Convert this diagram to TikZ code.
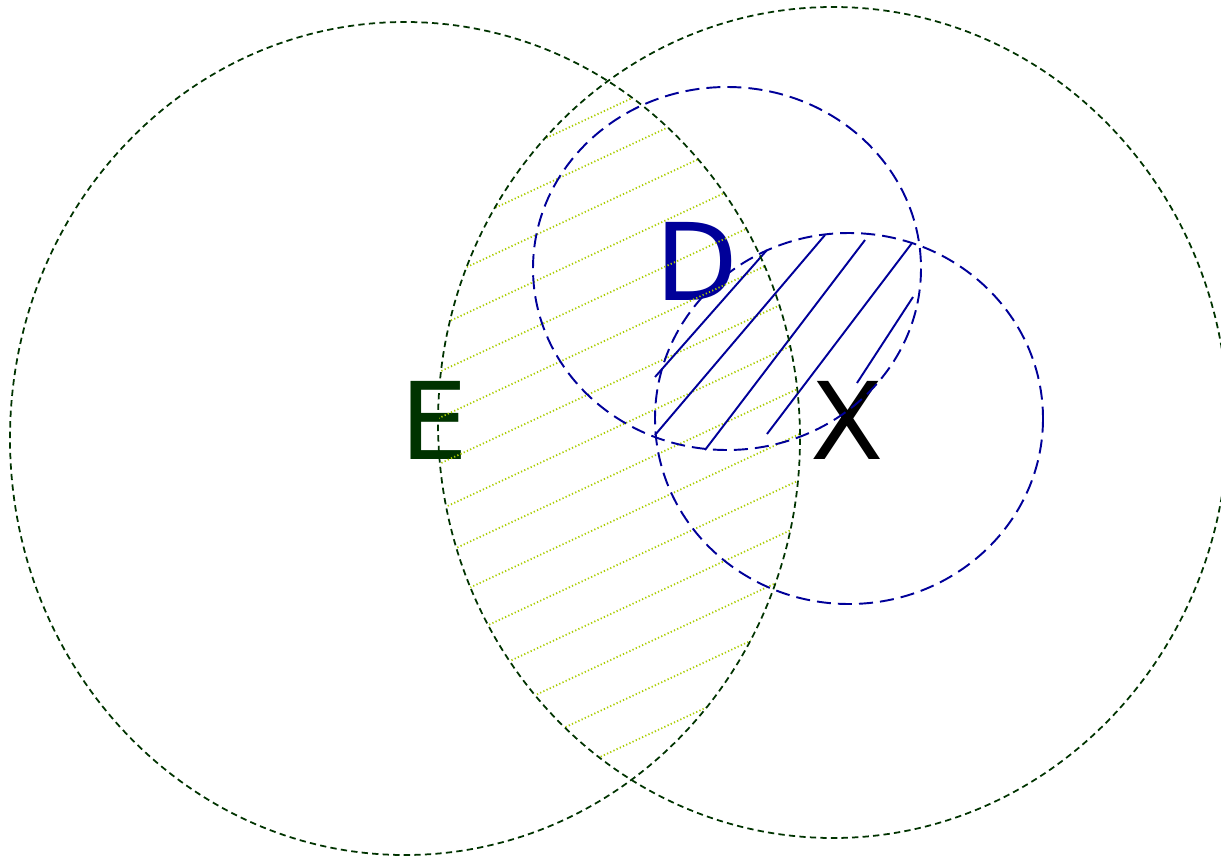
\documentclass[tikz,border=0pt]{standalone}
\usepackage{fontspec}
\setmainfont{DejaVu Sans}
\usetikzlibrary{positioning}
\definecolor{edge}{RGB}{0,51,0}
\definecolor{dom}{RGB}{0,0,153}
\definecolor{hatch}{RGB}{170,204,0}

\begin{document}
\begin{tikzpicture}[x=0.02cm, y=-0.02cm,
  every node/.style={font=\fontsize{61}{61}\selectfont},
  bigring/.style={edge, line width=1pt, dash pattern=on 3.6pt off 2.4pt},
  smallring/.style={dom, line width=1.1pt, dash pattern=on 8pt off 4pt},
  lensline/.style={hatch, line width=1pt, dash pattern=on 0.7pt off 1.3pt},
  domline/.style={dom, line width=1.1pt}]
\useasboundingbox (0,0) rectangle (1221,859);
% ---- labels
\node[edge] (lblE) at (434,420) {E};
\node[dom] (lblD) at (697,261) {D};
\node (lblX) at (847,420) {X};
% ---- hatch of the big lens
\begin{scope}
  \clip (405,438.5) ellipse [x radius=395, y radius=416.5];
  \clip (833,422.5) ellipse [x radius=395, y radius=415.5];
  \foreach \k in {-16,...,2}
    \draw[lensline] (400,{757+46*\k+0.466*200}) -- (850,{757+46*\k-0.466*250});
\end{scope}
% ---- hatch of the small lens
\foreach \xa/\ya/\xb/\yb in {655/377/767/250, 655/435/825/235, 705/450/865/240,
    767/434/912/243, 857/383/913/297}
  \draw[domline] (\xa,\ya) -- (\xb,\yb);
% ---- rings
\draw[bigring] (405,438.5) ellipse [x radius=395, y radius=416.5];
\draw[bigring] (833,422.5) ellipse [x radius=395, y radius=415.5];
\draw[smallring] (727,268.5) ellipse [x radius=194, y radius=181.5];
\draw[smallring] (849,418.5) ellipse [x radius=194, y radius=185.5];
\end{tikzpicture}
\end{document}
